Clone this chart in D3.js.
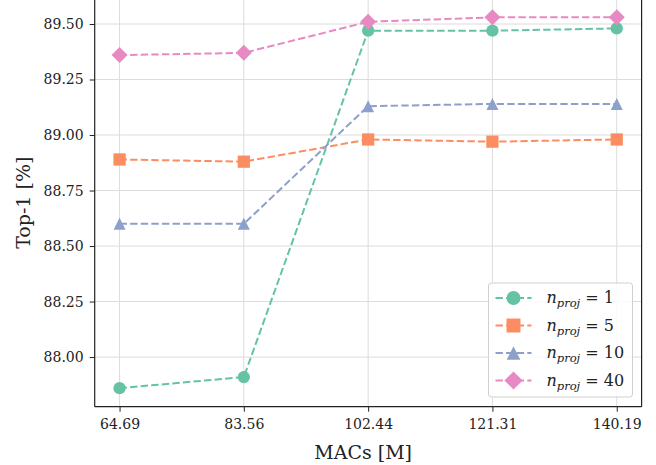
<!DOCTYPE html>
<html>
<head>
<meta charset="utf-8">
<script src="https://cdn.jsdelivr.net/npm/d3@7"></script>
<style>
  body { margin: 0; background: #fff; }
  svg { display: block; font-family: "DejaVu Serif", serif; }
</style>
</head>
<body>
<svg id="chart" width="656" height="465"></svg>
<script>
// MACs [M] on x, Top-1 on y
const macs = [64.69, 83.56, 102.44, 121.31, 140.19];
const nProj = [1, 5, 10, 40];
const top1_p1 = [87.86, 87.91, 89.47, 89.47, 89.48];
const top1_p5 = [88.89, 88.88, 88.98, 88.97, 88.98];
const top1_p10 = [88.60, 88.60, 89.13, 89.14, 89.14];
const top1_p40 = [89.36, 89.37, 89.51, 89.53, 89.53];
const yTicks = [88.00, 88.25, 88.50, 88.75, 89.00, 89.25, 89.50];

// matplotlib-like marker shapes (size = bounding box side squared)
const mplTriangle = {
    draw(ctx, size) {
        const r = Math.sqrt(size) / 2;
        ctx.moveTo(0, -r); ctx.lineTo(r, r); ctx.lineTo(-r, r); ctx.closePath();
    }
};
const mplDiamond = {
    draw(ctx, size) {
        const r = Math.sqrt(size) / 2;
        ctx.moveTo(0, -r); ctx.lineTo(r, 0); ctx.lineTo(0, r); ctx.lineTo(-r, 0); ctx.closePath();
    }
};

const colors = ["#66c2a5", "#fc8d62", "#8da0cb", "#e78ac3"];
const shapes = [d3.symbolCircle, d3.symbolSquare, mplTriangle, mplDiamond];
const sizes = [119, 150, 144, 256];

const series = nProj.map((n, i) => ({
    n: n,
    values: [top1_p1, top1_p5, top1_p10, top1_p40][i],
    color: colors[i],
    shape: shapes[i],
    size: sizes[i]
}));

const svg = d3.select("#chart");
const pLeft = 94.7, pRight = 641.6, pTop = -1.2, pBottom = 406.7;

// matplotlib style 5% margins
const xPad = (d3.max(macs) - d3.min(macs)) * 0.05;
const x = d3.scaleLinear()
    .domain([d3.min(macs) - xPad, d3.max(macs) + xPad])
    .range([pLeft, pRight]);

const allVals = series.flatMap(s => s.values);
const yPad = (d3.max(allVals) - d3.min(allVals)) * 0.05;
const y = d3.scaleLinear()
    .domain([d3.min(allVals) - yPad, d3.max(allVals) + yPad])
    .range([pBottom, pTop]);

// grid
svg.append("g")
   .selectAll("line")
   .data(macs)
   .enter().append("line")
   .attr("x1", d => x(d)).attr("x2", d => x(d))
   .attr("y1", pTop).attr("y2", pBottom)
   .attr("stroke", "#dcdcdc").attr("stroke-width", 1);
svg.append("g")
   .selectAll("line")
   .data(yTicks)
   .enter().append("line")
   .attr("x1", pLeft).attr("x2", pRight)
   .attr("y1", d => y(d)).attr("y2", d => y(d))
   .attr("stroke", "#dcdcdc").attr("stroke-width", 1);

// axes
const xAxis = svg.append("g")
    .attr("transform", `translate(0,${pBottom})`)
    .call(d3.axisBottom(x).tickValues(macs).tickFormat(d3.format(".2f")).tickSize(5).tickPadding(7));
const yAxis = svg.append("g")
    .attr("transform", `translate(${pLeft},0)`)
    .call(d3.axisLeft(y).tickValues(yTicks).tickFormat(d3.format(".2f")).tickSize(5).tickPadding(6));
[xAxis, yAxis].forEach(a => {
    a.select(".domain").remove();
    a.selectAll("text").attr("font-size", 14).attr("font-family", "DejaVu Serif").attr("fill", "#222");
    a.selectAll("line").attr("stroke", "#222");
});

// spines (top is just outside the view)
const spine = svg.append("g").attr("stroke", "#222").attr("stroke-width", 1.2).attr("fill", "none");
spine.append("line").attr("x1", pLeft).attr("x2", pLeft).attr("y1", pTop).attr("y2", pBottom);
spine.append("line").attr("x1", pRight).attr("x2", pRight).attr("y1", pTop).attr("y2", pBottom);
spine.append("line").attr("x1", pLeft).attr("x2", pRight).attr("y1", pBottom).attr("y2", pBottom);

// lines and markers
const line = d3.line().x((d, i) => x(macs[i])).y(d => y(d));
series.forEach(s => {
    const g = svg.append("g");
    g.append("path")
     .datum(s.values)
     .attr("d", line)
     .attr("fill", "none")
     .attr("stroke", s.color)
     .attr("stroke-width", 2)
     .attr("stroke-dasharray", "7.4,3.2");
    g.selectAll("path.m")
     .data(s.values)
     .enter().append("path")
     .attr("class", "m")
     .attr("d", d3.symbol().type(s.shape).size(s.size))
     .attr("transform", (d, i) => `translate(${x(macs[i])},${y(d)})`)
     .attr("fill", s.color);
});

// axis labels
svg.append("text")
   .attr("x", (pLeft + pRight) / 2 - 5)
   .attr("y", 459)
   .attr("text-anchor", "middle")
   .attr("font-size", 19)
   .attr("fill", "#222")
   .text("MACs [M]");
svg.append("text")
   .attr("transform", `translate(30,${(pTop + pBottom) / 2}) rotate(-90)`)
   .attr("text-anchor", "middle")
   .attr("font-size", 19)
   .attr("fill", "#222")
   .text("Top-1 [%]");

// legend
const lg = svg.append("g").attr("transform", "translate(488.5,283)");
lg.append("rect")
  .attr("width", 144).attr("height", 114)
  .attr("rx", 3)
  .attr("fill", "#fff").attr("fill-opacity", 0.85)
  .attr("stroke", "#d0d0d0");
series.forEach((s, i) => {
    const row = lg.append("g").attr("transform", `translate(0,${15 + i * 27.5})`);
    row.append("line")
       .attr("x1", 7).attr("x2", 43)
       .attr("stroke", s.color).attr("stroke-width", 2)
       .attr("stroke-dasharray", "7.4,3.2");
    row.append("path")
       .attr("d", d3.symbol().type(s.shape).size(s.size * 1.3))
       .attr("transform", "translate(25,0)")
       .attr("fill", s.color);
    const t = row.append("text")
       .attr("x", 58).attr("y", 5)
       .attr("font-size", 16)
       .attr("fill", "#222");
    t.append("tspan").attr("font-style", "italic").text("n");
    t.append("tspan").attr("font-style", "italic").attr("font-size", 11.5).attr("dy", 4).text("proj");
    t.append("tspan").attr("dy", -4).text(" = " + s.n);
});
</script>
</body>
</html>
